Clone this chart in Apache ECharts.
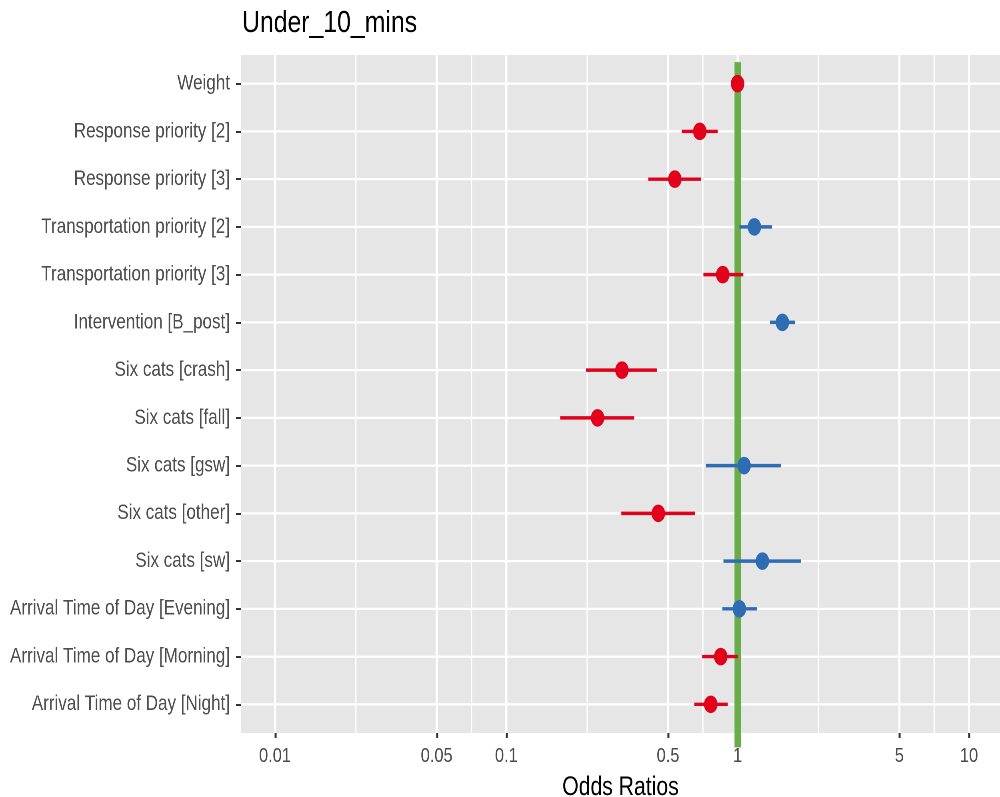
<!DOCTYPE html>
<html>
<head>
<meta charset="utf-8">
<script src="https://cdn.jsdelivr.net/npm/echarts@6/dist/echarts.min.js"></script>
<style>
html,body{margin:0;padding:0;background:#fff;overflow:hidden;width:1000px;height:797px;}
#chart{width:1250px;height:797px;transform:scaleX(0.8);transform-origin:0 0;}
</style>
</head>
<body>
<div id="chart"></div>
<script>
const titleText = 'Under_10_mins';
const axisTitle = 'Odds Ratios';
const categories = [
  'Weight',
  'Response priority [2]',
  'Response priority [3]',
  'Transportation priority [2]',
  'Transportation priority [3]',
  'Intervention [B_post]',
  'Six cats [crash]',
  'Six cats [fall]',
  'Six cats [gsw]',
  'Six cats [other]',
  'Six cats [sw]',
  'Arrival Time of Day [Evening]',
  'Arrival Time of Day [Morning]',
  'Arrival Time of Day [Night]'
];
const estimates = [0.999, 0.686, 0.535, 1.181, 0.862, 1.561, 0.316, 0.248, 1.066, 0.454, 1.279, 1.017, 0.845, 0.765];
const ciLow     = [0.990, 0.573, 0.411, 1.017, 0.711, 1.380, 0.221, 0.171, 0.728, 0.314, 0.868, 0.859, 0.702, 0.650];
const ciHigh    = [1.006, 0.820, 0.693, 1.408, 1.058, 1.770, 0.447, 0.357, 1.536, 0.653, 1.874, 1.213, 1.000, 0.906];
const tickValues = [0.01, 0.05, 0.1, 0.5, 1, 5, 10];
const tickLabels = ['0.01', '0.05', '0.1', '0.5', '1', '5', '10'];

// the whole chart is drawn 1.25x wider and squeezed horizontally by CSS (condensed look of the original)
const S = 0.8;
const FONT = '"Liberation Sans", Arial, Helvetica, sans-serif';
const RED = '#e2001a', BLUE = '#2e6db4', GREEN = '#68ad48';
const lg = Math.log10;
const X_MIN = -2.147, X_MAX = 1.134, Y_MIN = -0.6, Y_MAX = 13.6;

const majorX = tickValues.map(lg);
const minorX = [];
for (let i = 0; i < majorX.length - 1; i++) minorX.push((majorX[i] + majorX[i + 1]) / 2);
const rowIdx = categories.map((c, i) => i);

const chart = echarts.init(document.getElementById('chart'), null, {renderer: 'canvas', devicePixelRatio: 2});

const colorOf = i => estimates[i] < 1 ? RED : BLUE;

const option = {
  animation: false,
  backgroundColor: '#ffffff',
  title: {
    text: titleText, left: 238 / S, top: 3,
    textStyle: {fontFamily: FONT, fontSize: 31, fontWeight: 'normal', color: '#000'}
  },
  grid: {left: 241 / S, right: 0, top: 55, bottom: 64, outerBoundsMode: 'none', containLabel: false,
    show: true, backgroundColor: '#e6e6e6', borderWidth: 0},
  xAxis: {
    type: 'value', min: X_MIN, max: X_MAX,
    name: axisTitle, nameLocation: 'middle', nameGap: 41,
    nameTextStyle: {fontFamily: FONT, fontSize: 26.5, color: '#000'},
    axisLine: {show: false, onZero: false},
    splitLine: {show: false},
    axisTick: {show: true, customValues: majorX, length: 5, lineStyle: {color: '#333', width: 2 / S}},
    axisLabel: {
      customValues: majorX, margin: 13, fontFamily: FONT, fontSize: 20.5, color: '#4d4d4d',
      formatter: v => { const i = majorX.findIndex(m => Math.abs(m - v) < 1e-6); return i >= 0 ? tickLabels[i] : ''; }
    }
  },
  yAxis: {
    type: 'value', inverse: true, min: Y_MIN, max: Y_MAX,
    axisLine: {show: false, onZero: false},
    splitLine: {show: false},
    axisTick: {show: true, customValues: rowIdx, length: 5 / S, lineStyle: {color: '#333', width: 2}},
    axisLabel: {
      customValues: rowIdx, margin: 11 / S, fontFamily: FONT, fontSize: 21.3, color: '#4d4d4d',
      formatter: v => categories[Math.round(v)] || ''
    }
  },
  series: [
    {
      type: 'custom', z: 1, silent: true,
      data: majorX.map(v => [v, 1]).concat(minorX.map(v => [v, 0])).concat(rowIdx.map(i => [i, 2])),
      renderItem: (params, api) => {
        const v = api.value(0), kind = api.value(1);
        let p1, p2, w;
        if (kind === 2) { p1 = api.coord([X_MIN, v]); p2 = api.coord([X_MAX, v]); w = 2.3; }
        else { p1 = api.coord([v, Y_MIN]); p2 = api.coord([v, Y_MAX]); w = (kind === 0 ? 1.3 : 2.2) / S; }
        return {type: 'line', shape: {x1: p1[0], y1: p1[1], x2: p2[0], y2: p2[1]},
          style: {stroke: '#ffffff', lineWidth: w}};
      }
    },
    {
      type: 'custom', z: 2, silent: true, clip: false,
      data: [[lg(1)]],
      renderItem: (params, api) => {
        const p1 = api.coord([api.value(0), -0.45]);
        const p2 = api.coord([api.value(0), 13.9]);
        return {type: 'line', shape: {x1: p1[0], y1: p1[1], x2: p2[0], y2: p2[1]},
          style: {stroke: GREEN, lineWidth: 6.3 / S}};
      }
    },
    {
      type: 'custom', z: 3, silent: true,
      data: categories.map((c, i) => [lg(ciLow[i]), lg(ciHigh[i]), i]),
      renderItem: (params, api) => {
        const i = api.value(2);
        const p1 = api.coord([api.value(0), i]);
        const p2 = api.coord([api.value(1), i]);
        return {type: 'line', shape: {x1: p1[0], y1: p1[1], x2: p2[0], y2: p2[1]},
          style: {stroke: colorOf(i), lineWidth: 3.4}};
      }
    },
    {
      type: 'scatter', z: 4, silent: true,
      symbol: 'circle', symbolSize: [13.5 / S, 17.5],
      data: categories.map((c, i) => ({value: [lg(estimates[i]), i], itemStyle: {color: colorOf(i), opacity: 1}}))
    }
  ]
};
chart.setOption(option);
</script>
</body>
</html>
